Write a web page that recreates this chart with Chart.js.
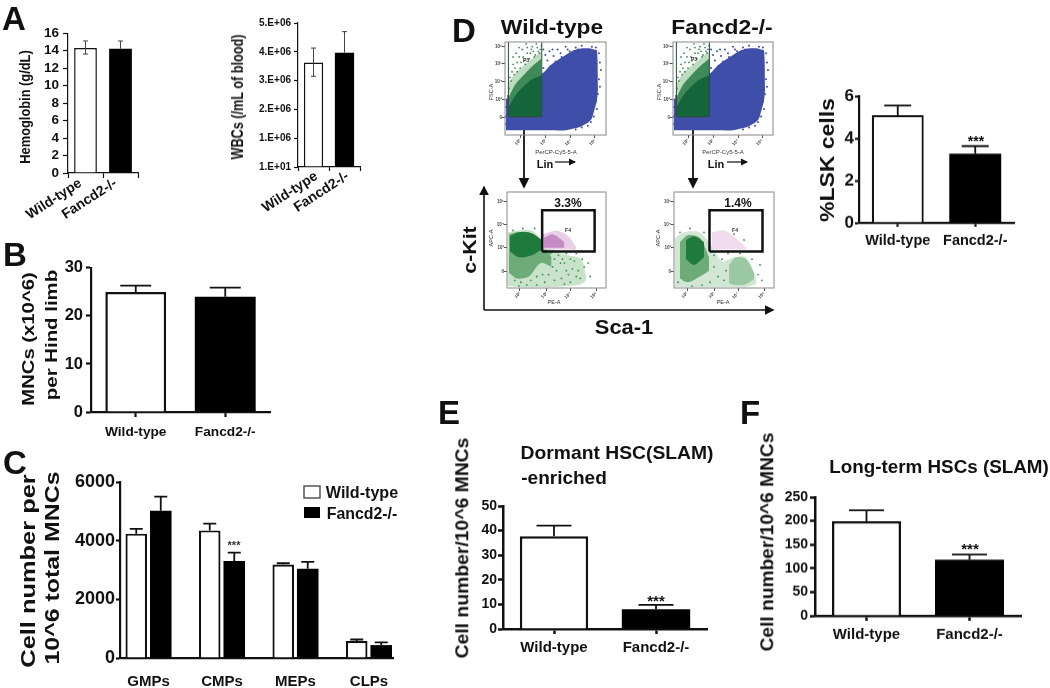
<!DOCTYPE html>
<html>
<head>
<meta charset="utf-8">
<script src="https://cdn.jsdelivr.net/npm/chart.js@4"></script>
<style>
  html, body { margin: 0; background: #fff; }
  #page { position: absolute; left: 0; top: 0; width: 1050px; height: 688px; overflow: hidden; filter: blur(0.45px); }
  #page canvas { position: absolute; }
  #page canvas.flow { filter: blur(0.7px); }
  #page svg { position: absolute; left: 0; top: 0; }
  .txt { position: absolute; white-space: nowrap; color: #111; font-family: "Liberation Sans", sans-serif; font-weight: bold; line-height: 1; }
</style>
</head>
<body>
<div id="page">
  <svg width="1050" height="688">
    <defs>
      <marker id="head" markerWidth="6" markerHeight="6" refX="5" refY="3" orient="auto">
        <path d="M0,0 L6,3 L0,6 z" fill="#111"></path>
      </marker>
    </defs>
    <g stroke="#111" fill="none">
      <line x1="524" y1="112" x2="524" y2="187" stroke-width="1.8" marker-end="url(#head)"></line>
      <line x1="693" y1="112" x2="693" y2="187" stroke-width="1.8" marker-end="url(#head)"></line>
      <line x1="555" y1="162" x2="575" y2="162" stroke-width="1.2" marker-end="url(#head)"></line>
      <line x1="727" y1="162" x2="747" y2="162" stroke-width="1.2" marker-end="url(#head)"></line>
      <line x1="484" y1="310" x2="484" y2="187" stroke-width="1.6" marker-end="url(#head)"></line>
      <line x1="484" y1="310" x2="773" y2="310" stroke-width="1.6" marker-end="url(#head)"></line>
    </g>
    <rect x="304" y="486" width="16" height="12" fill="#fff" stroke="#555" stroke-width="1.5"></rect>
    <rect x="304" y="507" width="16" height="11" fill="#000"></rect>
  </svg>
</div>
<script>
// --- DATA ---
const genotypes = ["Wild-type", "Fancd2-/-"];

const hemoglobin = [14.3, 14.2];
const hemoglobinTop = [15.1, 15.1];
const hemoglobinLow = [13.6, null];

const wbc = [3630000, 3970000];
const wbcTop = [4130000, 4700000];
const wbcLow = [3150000, null];
const wbcTicks = ["1.E+01", "1.E+06", "2.E+06", "3.E+06", "4.E+06", "5.E+06"];

const mncs = [25, 24];
const mncsTop = [26.3, 25.9];

const progenitors = ["GMPs", "CMPs", "MEPs", "CLPs"];
const progenitorsWT = [4240, 4350, 3190, 580];
const progenitorsWTTop = [4400, 4580, 3230, 630];
const progenitorsKO = [5020, 3310, 3040, 440];
const progenitorsKOTop = [5500, 3590, 3280, 530];

const lsk = [5.1, 3.27];
const lskTop = [5.55, 3.63];

const dormant = [37.7, 8];
const dormantTop = [42, 9.8];

const longTerm = [199, 118];
const longTermTop = [222, 129];

// flow plots in percent of the plot frame
const flowTopXTicks = [15, 40, 65, 89];
const flowTopYTicks = [18.6, 38, 57, 77, 95];
const flowBotXTicks = [13, 40, 64, 90];
const flowBotYTicks = [17, 42, 66, 90];
const flowXLabels = ["10\u00b2", "10\u00b3", "10\u2074", "10\u2075"];
const flowYLabels = ["0", "10\u00b3", "10\u2074", "10\u2075", "10\u2076"];

const blueX = [1, 5, 37, 45, 60, 68, 75, 85, 88, 91, 92];
const blueUpper = [37, 45, 66, 75, 86, 91, 93, 93, 92, 91, 50];
const blueLower = [5, 5, 5, 5, 5, 7, 9, 16, 25, 37, 48];
const blueSpeck = [[70,94],[62,92],[55,88],[48,85],[42,80],[52,92],[60,95],[38,72],[76,96],[86,95],[90,94],[93,88],[94,78],[95,70],[93,60],[94,52],[92,44],[90,36],[91,28],[88,20],[85,14],[82,10],[76,8],[70,6],[1,12],[0.5,20],[0,30],[1.5,38],[3,42],[66,85],[58,80],[45,74],[50,79],[40,86],[44,90],[56,84],[64,90],[72,92],[47,92],[38,92]];

const gateX = [3.5, 10, 18, 27, 36];
const gateFloor = [19.6, 19.6, 19.6, 19.6, 19.6];
const gateLight = [56, 66, 74, 82, 90];
const gateMid = [40, 54, 64, 74, 82];
const gateDark = [30, 42, 52, 60, 64];
const gateSpeck = [[6,58],[9,65],[5,62],[12,78],[15,72],[18,84],[14,84],[22,88],[25,88],[20,76],[28,90],[32,94],[30,86],[35,92],[24,82],[10,72],[8,76],[17,92],[27,95],[34,88],[36,96],[12,68],[19,80],[4,50],[29,84],[33,90],[22,94],[16,78],[7,68],[11,88],[8,84],[14,94],[21,98],[26,92],[31,98]];
const lineageGate = [[3.4,19.6],[36.4,19.6],[36.4,100]];
const lineageGateTop = [[3.4,19.6],[3.4,100]];

const lskBox = [[35.5,38],[88.5,38],[88.5,81],[35.5,81],[35.5,38]];

const wtLightX = [1, 12, 25, 36, 50, 62, 75, 80];
const wtLightUp = [58, 60, 60, 50, 38, 34, 30, 12];
const wtLightLow = [2, 1, 1, 1, 1, 2, 4, 8];
const wtMidX = [2, 10, 22, 34, 45];
const wtMidUp = [56, 58, 58, 48, 32];
const wtMidLow = [16, 10, 12, 26, 22];
const wtDarkX = [3, 12, 25, 35];
const wtDarkUp = [54, 58, 57, 50];
const wtDarkLow = [38, 32, 34, 40];
const wtPinkX = [36, 50, 62, 70];
const wtPinkUp = [56, 60, 54, 42];
const wtPinkLow = [40, 40, 40, 40];
const wtMagentaX = [37, 46, 58];
const wtMagentaUp = [52, 56, 48];
const wtMagentaLow = [42, 42, 42];
const wtSpeck = [[40,30],[46,22],[52,34],[58,26],[62,14],[68,28],[72,18],[55,10],[48,8],[64,6],[74,10],[78,22],[44,36],[60,36],[50,18],[38,6],[30,3],[20,3],[12,2],[6,60],[16,62],[28,62],[84,12],[82,26],[70,36],[58,4],[42,14],[66,20],[54,26],[60,18],[70,12],[48,30],[36,14],[30,12],[24,8],[8,8],[14,6],[56,30],[64,30],[76,30]];

const koLightX = [1, 10, 25, 37, 48, 60, 72, 82];
const koLightUp = [52, 58, 58, 45, 28, 32, 32, 12];
const koLightLow = [1, 1, 1, 1, 1, 1, 1, 4];
const koMidX = [6, 14, 26, 35];
const koMidUp = [48, 55, 52, 32];
const koMidLow = [10, 6, 12, 18];
const koLobeX = [55, 62, 72, 80];
const koLobeUp = [24, 32, 30, 16];
const koLobeLow = [5, 3, 4, 9];
const koDarkX = [12, 20, 30];
const koDarkUp = [50, 54, 48];
const koDarkLow = [30, 24, 32];
const koPinkX = [38, 50, 62, 72];
const koPinkUp = [58, 60, 52, 42];
const koPinkLow = [40, 40, 40, 40];
const koSpeck = [[40,22],[44,12],[50,8],[48,30],[36,6],[28,3],[18,2],[6,58],[16,62],[30,58],[84,14],[86,24],[78,30],[54,36],[66,36],[88,8],[58,10],[70,12],[62,22],[74,20],[46,44],[60,56],[70,50],[44,58],[4,6],[10,8],[40,34],[52,18],[34,26],[66,6]];

// --- HELPERS ---
const page = document.getElementById("page");
const SANS = '"Liberation Sans", sans-serif';

// len: stretch or squeeze the text to the length it has in the picture
function text(str, cx, cy, size, opts = {}) {
  const el = document.createElement("div");
  el.className = "txt";
  el.textContent = str;
  el.style.left = cx + "px";
  el.style.top = cy + "px";
  el.style.fontSize = size + "px";
  if (opts.normal) el.style.fontWeight = "normal";
  if (opts.color) el.style.color = opts.color;
  page.appendChild(el);
  const sx = opts.len ? opts.len / el.offsetWidth : 1;
  el.style.transform = `translate(-50%, -50%) rotate(${opts.rot || 0}deg) scaleX(${sx})`;
}

function makeCanvas(x, y, w, h) {
  const c = document.createElement("canvas");
  c.width = w;
  c.height = h;
  c.style.left = x + "px";
  c.style.top = y + "px";
  c.style.width = w + "px";
  c.style.height = h + "px";
  page.appendChild(c);
  return c;
}

// whiskers are drawn from the bar elements and the y scale
const errorBars = {
  id: "errorBars",
  afterDatasetsDraw(chart, args, opts) {
    const { ctx, scales } = chart;
    chart.data.datasets.forEach((ds, i) => {
      if (!ds.errTop) return;
      const bars = chart.getDatasetMeta(i).data;
      ctx.save();
      ctx.strokeStyle = opts.color;
      ctx.lineWidth = opts.width;
      bars.forEach((bar, k) => {
        const top = scales.y.getPixelForValue(ds.errTop[k]);
        const low = ds.errLow && ds.errLow[k] != null ? scales.y.getPixelForValue(ds.errLow[k]) : bar.y;
        ctx.beginPath();
        ctx.moveTo(bar.x, low);
        ctx.lineTo(bar.x, top);
        ctx.moveTo(bar.x - opts.cap / 2, top);
        ctx.lineTo(bar.x + opts.cap / 2, top);
        if (ds.errLow && ds.errLow[k] != null) {
          ctx.moveTo(bar.x - opts.cap / 2, low);
          ctx.lineTo(bar.x + opts.cap / 2, low);
        }
        ctx.stroke();
      });
      ctx.restore();
    });
  },
};

const frameBox = {
  id: "frameBox",
  afterDatasetsDraw(chart, args, opts) {
    if (!opts.color) return;
    const { ctx, chartArea: a } = chart;
    ctx.save();
    ctx.strokeStyle = opts.color;
    ctx.lineWidth = 1;
    ctx.strokeRect(a.left, a.top, a.right - a.left, a.bottom - a.top);
    ctx.restore();
  },
};

Chart.register(errorBars, frameBox);

// p: left, right, top, bottom of the plot area in page pixels
function barPanel(p) {
  const M = 70, T = 12, R = 6, H = p.below || 40;
  const canvas = makeCanvas(p.left - M, p.top - T, p.right - p.left + M + R, p.bottom - p.top + T + H);
  const yTicks = {
    color: "#111",
    padding: p.tickPad === undefined ? 3 : p.tickPad,
    font: { family: SANS, size: p.tickSize, weight: "bold" },
    stepSize: p.step,
    autoSkip: false,
    callback: p.yLabels ? (v, i) => p.yLabels[i] : (v) => String(v),
  };
  const xScale = p.xScale || {
    type: "category",
    grid: { display: true, drawOnChartArea: false, offset: !!p.tickBetween, tickLength: p.tickLen, tickWidth: p.axisWidth, tickColor: "#111" },
    ticks: {
      color: "#111",
      padding: p.xPad === undefined ? 5 : p.xPad,
      labelOffset: p.xShift || 0,
      font: { family: SANS, size: p.xSize, weight: "bold" },
      maxRotation: p.xRot || 0,
      minRotation: p.xRot || 0,
      autoSkip: false,
    },
  };
  xScale.border = { color: "#111", width: p.axisWidth };
  xScale.afterFit = (s) => { s.height = H; };
  return new Chart(canvas, {
    type: "bar",
    data: { labels: p.labels, datasets: p.datasets },
    options: {
      responsive: false,
      animation: false,
      layout: { autoPadding: false, padding: { top: T, right: R } },
      plugins: {
        legend: { display: false },
        tooltip: { enabled: false },
        errorBars: { color: p.errColor || "#111", width: p.errWidth, cap: p.cap },
      },
      scales: {
        x: xScale,
        y: {
          min: 0,
          max: p.max,
          grid: { display: true, drawOnChartArea: false, tickLength: p.tickLen, tickWidth: p.axisWidth, tickColor: "#111" },
          border: { color: "#111", width: p.axisWidth },
          ticks: yTicks,
          afterFit: (s) => { s.width = M; },
        },
      },
    },
  });
}

function pairDatasets(values, tops, lows, barPct, bw) {
  return [{
    data: values,
    errTop: tops,
    errLow: lows,
    backgroundColor: ["#fff", "#000"],
    borderColor: ["#111", "#000"],
    borderWidth: [bw, 0],
    barPercentage: barPct,
    categoryPercentage: 1,
  }];
}

function band(xs, up, low, color) {
  const toPts = (ys) => xs.map((x, i) => ({ x, y: ys[i] }));
  return [
    { data: toPts(up), borderWidth: 0, pointRadius: 0, tension: 0.3, fill: "+1", backgroundColor: color },
    { data: toPts(low), borderWidth: 0, pointRadius: 0, tension: 0.3, fill: false },
  ];
}

function specks(list, color, r) {
  return { data: list.map(([x, y]) => ({ x, y })), showLine: false, pointRadius: r, pointBorderWidth: 0, pointBackgroundColor: color };
}

function outline(list, color, width) {
  return { data: list.map(([x, y]) => ({ x, y })), borderColor: color, borderWidth: width, pointRadius: 0, fill: false, tension: 0 };
}

function flowPanel(left, top, right, bottom, layers, xt, yt) {
  const M = 18, T = 3, R = 3, H = 14;
  const canvas = makeCanvas(left - M, top - T, right - left + M + R, bottom - top + T + H);
  canvas.className = "flow";
  layers.forEach((d, i) => { d.order = layers.length - i; });
  const tickFont = { family: SANS, size: 4.5, weight: "bold" };
  return new Chart(canvas, {
    type: "line",
    data: { datasets: layers },
    options: {
      responsive: false,
      animation: false,
      layout: { autoPadding: false, padding: { top: T, right: R } },
      plugins: { legend: { display: false }, tooltip: { enabled: false }, frameBox: { color: "#888" } },
      scales: {
        x: {
          type: "linear", min: 0, max: 100,
          grid: { display: true, drawOnChartArea: false, tickLength: 3, tickColor: "#555" },
          border: { display: false },
          afterBuildTicks: (s) => { s.ticks = xt.map((v) => ({ value: v })); },
          afterFit: (s) => { s.height = H; },
          ticks: { color: "#444", font: tickFont, padding: 0, maxRotation: 45, minRotation: 45, autoSkip: false, callback: (v, i) => flowXLabels[i] },
        },
        y: {
          type: "linear", min: 0, max: 100,
          grid: { display: true, drawOnChartArea: false, tickLength: 3, tickColor: "#555" },
          border: { display: false },
          afterBuildTicks: (s) => { s.ticks = yt.map((v) => ({ value: v })); },
          afterFit: (s) => { s.width = M; },
          ticks: { color: "#444", font: tickFont, padding: 0, autoSkip: false, callback: (v, i) => flowYLabels[i] },
        },
      },
    },
  });
}

// --- PANELS ---
barPanel({ left: 68, right: 138, top: 32.7, bottom: 172.7, max: 16, step: 2, labels: genotypes,
  datasets: pairDatasets(hemoglobin, hemoglobinTop, hemoglobinLow, 0.65, 1.5),
  tickSize: 13.5, tickLen: 5, tickPad: 4, axisWidth: 1.2, xSize: 14, xRot: 33, xPad: -3, xShift: -5, tickBetween: true,
  errWidth: 1, errColor: "#444", cap: 5, below: 70 });

barPanel({ left: 298, right: 360, top: 22.7, bottom: 166.7, max: 5000000, step: 1000000, yLabels: wbcTicks, labels: genotypes,
  datasets: pairDatasets(wbc, wbcTop, wbcLow, 0.62, 1.5),
  tickSize: 10, tickLen: 4, axisWidth: 1.2, xSize: 14, xRot: 33, xPad: -3, xShift: 3, tickBetween: true,
  errWidth: 1, errColor: "#444", cap: 5, below: 70 });

barPanel({ left: 90.7, right: 270, top: 266.7, bottom: 411.7, max: 30, step: 10, labels: genotypes,
  datasets: pairDatasets(mncs, mncsTop, null, 0.68, 2.5),
  tickSize: 16.5, tickLen: 5, axisWidth: 2.2, xSize: 13.7, xPad: 7,
  errWidth: 1.8, cap: 31 });

barPanel({ left: 120, right: 393, top: 481.7, bottom: 658.3, max: 6000, step: 2000,
  datasets: [
    { data: progenitorsWT.map((v, i) => ({ x: i, y: v })), errTop: progenitorsWTTop, backgroundColor: "#fff", borderColor: "#111", borderWidth: 2.2, barPercentage: 0.88, categoryPercentage: 0.667 },
    { data: progenitorsKO.map((v, i) => ({ x: i, y: v })), errTop: progenitorsKOTop, backgroundColor: "#000", borderColor: "#000", borderWidth: 0, barPercentage: 0.88, categoryPercentage: 0.667 },
  ],
  xScale: {
    type: "linear",
    offset: false,
    min: -0.388,
    max: 3.327,
    grid: { display: false },
    afterBuildTicks: (s) => { s.ticks = progenitors.map((c, i) => ({ value: i })); },
    ticks: { color: "#111", padding: 7, font: { family: SANS, size: 15, weight: "bold" }, maxRotation: 0, autoSkip: false, callback: (v, i) => progenitors[i] },
  },
  tickSize: 18, tickLen: 4, axisWidth: 2.2, tickPad: 1, errWidth: 1.8, cap: 13 });

barPanel({ left: 859, right: 1014, top: 96, bottom: 222.7, max: 6, step: 2, labels: genotypes,
  datasets: pairDatasets(lsk, lskTop, null, 0.67, 2.2),
  tickSize: 17, tickLen: 4, tickPad: 1, axisWidth: 2.2, xSize: 14.5, xPad: 5, errWidth: 1.8, cap: 27 });

barPanel({ left: 503, right: 707, top: 506, bottom: 629.3, max: 50, step: 10, labels: genotypes,
  datasets: pairDatasets(dormant, dormantTop, null, 0.67, 2.5),
  tickSize: 14, tickLen: 5, tickPad: 1, axisWidth: 2.5, xSize: 15, xPad: 5, errWidth: 1.8, cap: 35 });

barPanel({ left: 815, right: 1021, top: 497.3, bottom: 616, max: 250, step: 50, labels: genotypes,
  datasets: pairDatasets(longTerm, longTermTop, null, 0.67, 2.5),
  tickSize: 14, tickLen: 5, tickPad: 2, axisWidth: 2.5, xSize: 15, xPad: 5, errWidth: 1.8, cap: 35 });

// flow plots
const BLUE = "#3f4ea8", G_DARK = "#14653a", G_MID = "#3f8a58", G_LIGHT = "#bcdcc0";

function topLayers() {
  return [
    ...band(blueX, blueUpper, blueLower, BLUE),
    specks(blueSpeck, BLUE, 1),
    ...band(gateX, gateLight, gateFloor, G_LIGHT),
    specks(gateSpeck, G_MID, 0.9),
    ...band(gateX, gateMid, gateFloor, G_MID),
    ...band(gateX, gateDark, gateFloor, G_DARK),
    outline(lineageGate, "#2a4a3a", 1),
    outline(lineageGateTop, "#2a4a3a", 1),
  ];
}

flowPanel(505, 42, 606, 135, topLayers(), flowTopXTicks, flowTopYTicks);
flowPanel(673, 42, 773, 135, topLayers(), flowTopXTicks, flowTopYTicks);

flowPanel(507, 192, 606, 288, [
  ...band(wtLightX, wtLightUp, wtLightLow, "#c9e2ca"),
  specks(wtSpeck, G_MID, 0.9),
  ...band(wtMidX, wtMidUp, wtMidLow, "#6dab78"),
  ...band(wtDarkX, wtDarkUp, wtDarkLow, "#1f7a3e"),
  ...band(wtPinkX, wtPinkUp, wtPinkLow, "#e8cfe6"),
  ...band(wtMagentaX, wtMagentaUp, wtMagentaLow, "#c68ac4"),
  outline(lskBox, "#111", 2.5),
], flowBotXTicks, flowBotYTicks);

flowPanel(674, 192, 774, 288, [
  ...band(koLightX, koLightUp, koLightLow, "#d2e7d3"),
  specks(koSpeck, G_MID, 0.9),
  ...band(koMidX, koMidUp, koMidLow, "#6dab78"),
  ...band(koLobeX, koLobeUp, koLobeLow, "#9ac8a3"),
  ...band(koDarkX, koDarkUp, koDarkLow, "#1f7a3e"),
  ...band(koPinkX, koPinkUp, koPinkLow, "#f0dcee"),
  outline(lskBox, "#111", 2.5),
], flowBotXTicks, flowBotYTicks);

// --- LABELS ---
text("A", 14, 18, 33);
text("B", 15, 254, 33);
text("C", 15, 462, 33);
text("D", 464, 30, 33);
text("E", 449, 412, 33);
text("F", 750, 412, 33);

text("Hemoglobin (g/dL)", 24, 107, 15, { rot: -90, len: 113 });
text("WBCs (/mL of blood)", 238, 97, 16, { rot: -90, len: 125 });
text("MNCs (x10^6)", 29, 339, 16, { rot: -90, len: 133 });
text("per Hind limb", 52, 335, 16, { rot: -90, len: 130 });
text("Cell number per", 28, 571, 20, { rot: -90, len: 193 });
text("10^6 total MNCs", 52, 568, 20, { rot: -90, len: 193 });

text("Wild-type", 362, 492, 17, { len: 72 });
text("Fancd2-/-", 362, 513, 17, { len: 71 });

text("Wild-type", 552, 26, 21, { len: 102 });
text("Fancd2-/-", 722, 26, 21, { len: 101 });
text("P3", 526, 60, 5, { color: "#333" });
text("P3", 694, 59, 5, { color: "#333" });
text("PerCP-Cy5-5-A", 556, 152, 6, { normal: true, color: "#333" });
text("PerCP-Cy5-5-A", 723, 152, 6, { normal: true, color: "#333" });
text("Lin", 545, 164, 11);
text("Lin", 716, 164, 11);
text("FSC-A", 492, 92, 5.5, { normal: true, rot: -90, color: "#333" });
text("FSC-A", 660, 92, 5.5, { normal: true, rot: -90, color: "#333" });
text("APC-A", 492, 238, 5.5, { normal: true, rot: -90, color: "#333" });
text("APC-A", 659, 238, 5.5, { normal: true, rot: -90, color: "#333" });
text("PE-A", 554, 303, 5.5, { normal: true, color: "#333" });
text("PE-A", 723, 303, 5.5, { normal: true, color: "#333" });
text("F4", 568, 230, 5, { color: "#333" });
text("F4", 735, 230, 5, { color: "#333" });
text("3.3%", 568, 203, 12);
text("1.4%", 738, 203, 12);
text("c-Kit", 469, 250, 19, { rot: -90, len: 47 });
text("Sca-1", 624, 327, 20, { len: 58 });

text("%LSK cells", 827, 160, 20, { rot: -90, len: 124 });
text("***", 976, 141, 14);
text("***", 234, 545, 11, { color: "#333" });

text("Cell number/10^6 MNCs", 462.6, 548, 17.5, { rot: -90, len: 221 });
text("Dormant HSC(SLAM)", 617, 452, 19, { len: 193 });
text("-enriched", 564, 477, 19, { len: 86 });
text("***", 656, 600, 15);

text("Cell number/10^6 MNCs", 768, 542, 17.5, { rot: -90, len: 219 });
text("Long-term HSCs (SLAM)", 939, 466, 19, { len: 220 });
text("***", 970, 548, 15);
</script>
</body>
</html>
